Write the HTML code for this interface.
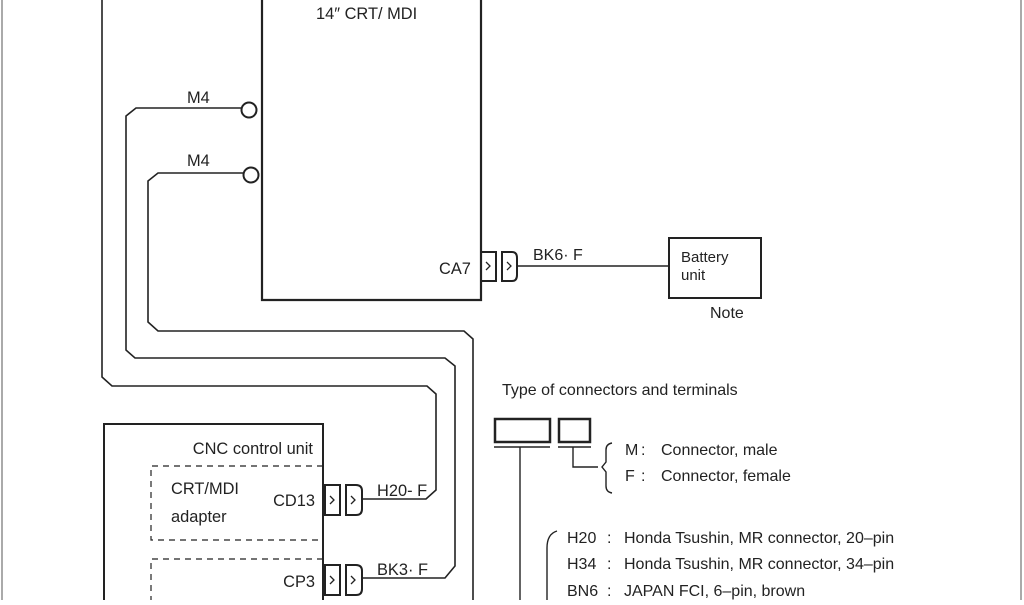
<!DOCTYPE html>
<html><head><meta charset="utf-8"><style>
body{margin:0;background:#fff;width:1024px;height:600px;overflow:hidden}
svg text{font-family:"Liberation Sans",sans-serif;font-size:16.4px;fill:#222}
svg text.s{font-size:15px}
svg text.l{font-size:16px}
</style></head><body>
<svg width="1024" height="600" viewBox="0 0 1024 600" xmlns="http://www.w3.org/2000/svg">
<line x1="2" y1="0" x2="2" y2="600" stroke="#aaa" stroke-width="2"/>
<line x1="1021" y1="0" x2="1021" y2="600" stroke="#aaa" stroke-width="2"/>
<g fill="none" stroke="#222">
<path d="M262 -2V300H481V-2" stroke-width="2.2"/>
<circle cx="249" cy="110" r="7.5" stroke-width="2"/>
<circle cx="251" cy="175" r="7.5" stroke-width="2"/>
<g stroke-width="1.6">
<path d="M242 108H136L126 116V350L135 358H445L455 366V566L445 578H362"/>
<path d="M243 173H158L148 181V322L158 331H464L473 339V600"/>
<path d="M102 0V377L112 386H427L436 394V490L426 499H362"/>
<path d="M517 266H668"/>
</g>
<rect x="481" y="252" width="15" height="29" stroke-width="2"/>
<path d="M502 252H512Q517 252 517 258V275Q517 281 512 281H502Z" stroke-width="2"/>
<path d="M486 262l4 4-4 4M507 262l4 4-4 4" stroke-width="1.3"/>
<rect x="669" y="238" width="92" height="60" stroke-width="2"/>
<path d="M104 600V424H323V600" stroke-width="2"/>
<path d="M323 466H151V540H323M323 559H151V600" stroke-width="1.2" stroke-dasharray="6,5"/>
<rect x="325" y="485" width="15" height="30" stroke-width="2"/>
<path d="M346 485H356Q362 485 362 491V509Q362 515 356 515H346Z" stroke-width="2"/>
<path d="M330 496l4 4-4 4M351 496l4 4-4 4" stroke-width="1.3"/>
<rect x="325" y="565" width="15" height="30" stroke-width="2"/>
<path d="M346 565H356Q362 565 362 571V589Q362 595 356 595H346Z" stroke-width="2"/>
<path d="M330 576l4 4-4 4M351 576l4 4-4 4" stroke-width="1.3"/>
<rect x="495" y="419" width="55" height="23" stroke-width="2.5"/>
<rect x="559" y="419" width="31" height="23" stroke-width="2.5"/>
<path d="M494 447H550M558 447H591" stroke-width="1.4"/>
<path d="M520 447V600M573 447V467H598" stroke-width="1.4"/>
<path d="M612 443Q606 444 606 450V462L602 467L606 472V486Q606 492 612 493" stroke-width="1.4"/>
<path d="M557 531Q547 534 547 548V600" stroke-width="1.4"/>
</g>
<text x="316" y="19">14″ CRT/ MDI</text>
<text x="187" y="103">M4</text>
<text x="187" y="166">M4</text>
<text x="439" y="274">CA7</text>
<text x="533" y="260" class="l">BK6· F</text>
<text x="681" y="262" class="s">Battery</text>
<text x="681" y="280" class="s">unit</text>
<text x="710" y="318" class="l">Note</text>
<text x="502" y="395" class="l">Type of connectors and terminals</text>
<text x="313" y="454" text-anchor="end">CNC control unit</text>
<text x="171" y="494">CRT/MDI</text>
<text x="171" y="522">adapter</text>
<text x="315" y="506" text-anchor="end">CD13</text>
<text x="315" y="587" text-anchor="end">CP3</text>
<text x="377" y="496">H20- F</text>
<text x="377" y="575">BK3· F</text>
<g class="l">
<text x="625" y="455" class="l">M</text><text x="641" y="455" class="l">:</text><text x="661" y="455" class="l">Connector, male</text>
<text x="625" y="481" class="l">F</text><text x="641" y="481" class="l">:</text><text x="661" y="481" class="l">Connector, female</text>
<text x="567" y="543" class="l">H20</text><text x="607" y="543" class="l">:</text><text x="624" y="543" class="l">Honda Tsushin, MR connector, 20–pin</text>
<text x="567" y="569" class="l">H34</text><text x="607" y="569" class="l">:</text><text x="624" y="569" class="l">Honda Tsushin, MR connector, 34–pin</text>
<text x="567" y="596" class="l">BN6</text><text x="607" y="596" class="l">:</text><text x="624" y="596" class="l">JAPAN FCI, 6–pin, brown</text>
</g>
</svg>
</body></html>
